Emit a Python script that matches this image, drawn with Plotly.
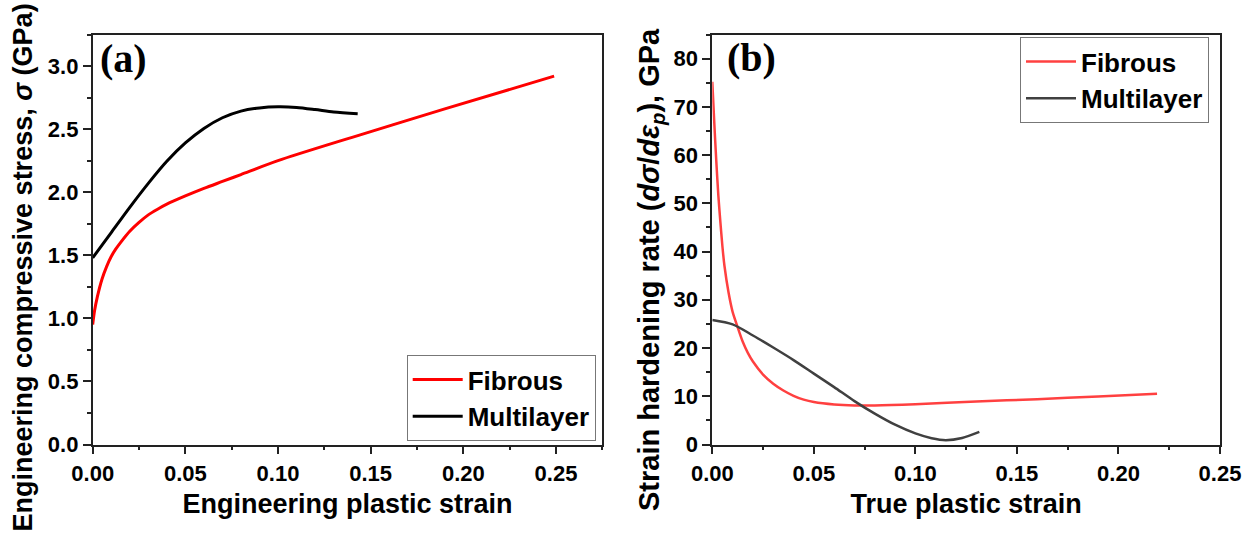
import plotly.graph_objects as go

# ---------------- Panel (a) data ----------------
a_fib_x = [0, 0.001, 0.0025, 0.005, 0.0075, 0.01, 0.0125, 0.015, 0.02, 0.025,
           0.03, 0.035, 0.04, 0.05, 0.06, 0.07, 0.08, 0.10, 0.14, 0.19, 0.249]
a_fib_y = [0.95, 1.06, 1.17, 1.31, 1.41, 1.49, 1.55, 1.60, 1.69, 1.76,
           1.82, 1.865, 1.905, 1.97, 2.03, 2.085, 2.14, 2.25, 2.435, 2.66, 2.92]

a_mul_x = [0, 0.01, 0.02, 0.03, 0.04, 0.05, 0.06, 0.07, 0.08, 0.09,
           0.10, 0.11, 0.12, 0.13, 0.143]
a_mul_y = [1.48, 1.68, 1.88, 2.07, 2.245, 2.39, 2.505, 2.59, 2.643, 2.668,
           2.677, 2.672, 2.655, 2.635, 2.622]

# ---------------- Panel (b) data ----------------
b_fib_x = [0, 0.001, 0.002, 0.003, 0.004, 0.005, 0.006, 0.008, 0.010, 0.0125,
           0.015, 0.0175, 0.02, 0.025, 0.03, 0.035, 0.04, 0.045, 0.05, 0.06,
           0.07, 0.08, 0.10, 0.13, 0.16, 0.19, 0.219]
b_fib_y = [75.2, 66.5, 58.5, 51.5, 46.0, 41.0, 37.0, 31.5, 27.5, 24.3,
           21.3, 19.0, 17.2, 14.5, 12.6, 11.2, 10.1, 9.3, 8.8, 8.3,
           8.1, 8.1, 8.35, 8.9, 9.4, 9.95, 10.5]

b_mul_x = [0, 0.01, 0.02, 0.03, 0.04, 0.05, 0.06, 0.07, 0.08, 0.09,
           0.10, 0.108, 0.115, 0.123, 0.1315]
b_mul_y = [25.8, 24.9, 22.6, 20.1, 17.5, 14.7, 11.9, 9.0, 6.4, 4.1,
           2.3, 1.3, 0.9, 1.35, 2.6]

series_names = ["Fibrous", "Multilayer"]

a_xticks = [0, 0.05, 0.10, 0.15, 0.20, 0.25]
a_yticks = [0, 0.5, 1.0, 1.5, 2.0, 2.5, 3.0]
b_xticks = [0, 0.05, 0.10, 0.15, 0.20, 0.25]
b_yticks = [0, 10, 20, 30, 40, 50, 60, 70, 80]

FONT = "Liberation Sans, Arial, sans-serif"
SERIF = "Liberation Serif, Times New Roman, serif"
AX = "#222222"
W, H = 1255, 535

fig = go.Figure()
fig.add_trace(go.Scatter(x=a_fib_x, y=a_fib_y, mode="lines", name=series_names[0],
                         line=dict(color="#ff0000", width=3, shape="spline", smoothing=0.8),
                         xaxis="x", yaxis="y", legend="legend"))
fig.add_trace(go.Scatter(x=a_mul_x, y=a_mul_y, mode="lines", name=series_names[1],
                         line=dict(color="#000000", width=3, shape="spline", smoothing=0.8),
                         xaxis="x", yaxis="y", legend="legend"))
fig.add_trace(go.Scatter(x=b_fib_x, y=b_fib_y, mode="lines", name=series_names[0],
                         line=dict(color="#ff4040", width=2.5, shape="spline", smoothing=0.8),
                         xaxis="x2", yaxis="y2", legend="legend2"))
fig.add_trace(go.Scatter(x=b_mul_x, y=b_mul_y, mode="lines", name=series_names[1],
                         line=dict(color="#404040", width=2.5, shape="spline", smoothing=0.8),
                         xaxis="x2", yaxis="y2", legend="legend2"))


def axis(domain, rng, tickvals, fmt, minor_dtick, title, standoff, anchor):
    d = dict(
        domain=domain, range=rng, anchor=anchor,
        tickvals=tickvals, tickformat=fmt,
        showline=True, linecolor=AX, linewidth=1.8, mirror=True,
        ticks="outside", ticklen=8, tickwidth=1.8, tickcolor=AX,
        minor=dict(ticks="outside", ticklen=4, tickwidth=1.5, tickcolor=AX,
                   dtick=minor_dtick, showgrid=False),
        showgrid=False, zeroline=False, automargin=False,
        tickfont=dict(family=FONT, size=22, color="black", weight="bold"),
    )
    if title:
        d["title"] = dict(text=title, standoff=standoff,
                          font=dict(family=FONT, size=27, color="black", weight="bold"))
    return d


ydom = [1 - 444.5 / H, 1 - 34.5 / H]
legend_font = dict(family=FONT, size=26, color="black", weight="bold")
fig.update_layout(
    width=W, height=H,
    margin=dict(l=0, r=0, t=0, b=0),
    paper_bgcolor="white", plot_bgcolor="white",
    xaxis=axis([92.7 / W, 602.3 / W], [0, 0.275], a_xticks, ".2f", 0.025,
               "Engineering plastic strain", 9, "y"),
    yaxis=axis(ydom, [0, 3.25], a_yticks, ".1f", 0.25, None, 0, "x"),
    xaxis2=axis([712.3 / W, 1220 / W], [0, 0.25], b_xticks, ".2f", 0.025,
                "True plastic strain", 9, "y2"),
    yaxis2=axis(ydom, [0, 85], b_yticks, "d", 5, None, 0, "x2"),
    legend=dict(x=406.7 / W, y=1 - 355 / H, xanchor="left", yanchor="top",
                bgcolor="white", bordercolor="#777777", borderwidth=1,
                font=legend_font, tracegroupgap=0, itemwidth=50),
    legend2=dict(x=1020 / W, y=1 - 37 / H, xanchor="left", yanchor="top",
                 bgcolor="white", bordercolor="#777777", borderwidth=1,
                 font=legend_font, tracegroupgap=0, itemwidth=50),
    annotations=[
        dict(text="<b>(a)</b>", x=98 / W, y=1 - 58.5 / H, xref="paper", yref="paper",
             xanchor="left", yanchor="middle", showarrow=False,
             font=dict(family=SERIF, size=40, color="black")),
        dict(text="<b>(b)</b>", x=725 / W, y=1 - 58 / H, xref="paper", yref="paper",
             xanchor="left", yanchor="middle", showarrow=False,
             font=dict(family=SERIF, size=40, color="black")),
        dict(text="Engineering compressive stress, <i>σ</i> (GPa)",
             x=22 / W, y=1 - 267.5 / H, xref="paper", yref="paper", textangle=-90,
             xanchor="center", yanchor="middle", showarrow=False,
             font=dict(family=FONT, size=27, color="black", weight="bold")),
        dict(text="Strain hardening rate (<i>dσ</i>/<i>dε<sub>p</sub></i>), GPa",
             x=651 / W, y=1 - 270 / H, xref="paper", yref="paper", textangle=-90,
             xanchor="center", yanchor="middle", showarrow=False,
             font=dict(family=FONT, size=29, color="black", weight="bold")),
    ],
)

fig.write_html("out.html", config={"displayModeBar": False},
               post_script="document.body.style.margin='0';document.body.style.padding='0';")
